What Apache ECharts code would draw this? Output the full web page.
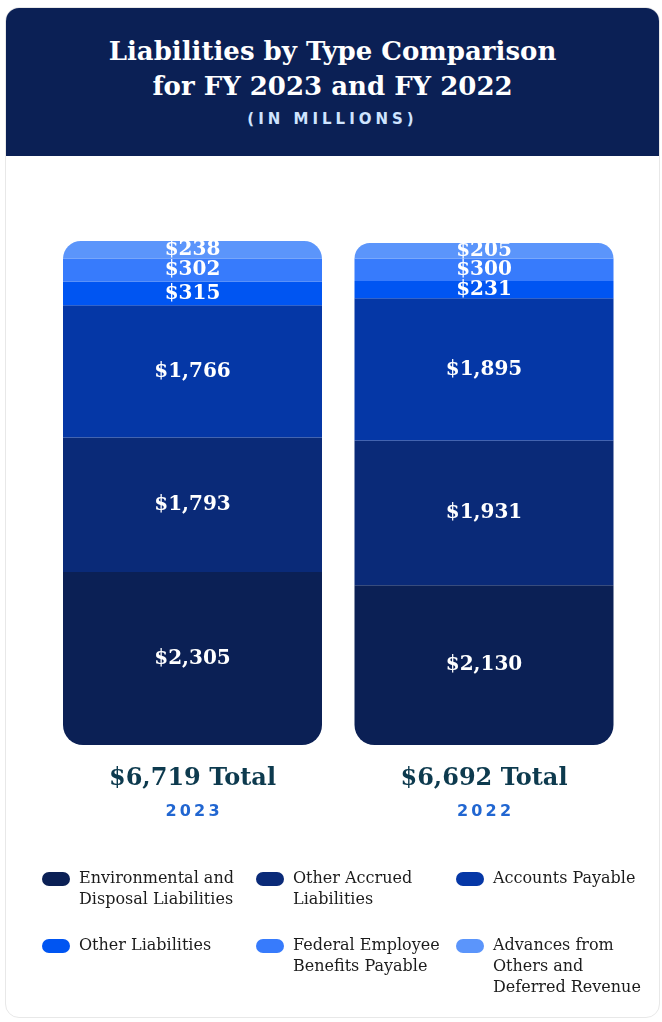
<!DOCTYPE html>
<html>
<head>
<meta charset="utf-8">
<script src="https://cdn.jsdelivr.net/npm/echarts@6/dist/echarts.min.js"></script>
<style>
  html, body { margin: 0; padding: 0; width: 662px; height: 1022px; overflow: hidden; background: #fff; }
  #card {
    position: absolute; left: 5px; top: 7px; width: 655px; height: 1011px;
    border: 1.5px solid #e8e8e8; border-radius: 14px; box-sizing: border-box;
    overflow: hidden; background: #fff;
  }
  #head {
    position: absolute; left: 0; top: 0; right: 0; height: 148px;
    background: #0b2055; text-align: center; color: #fff;
  }
  #head h1 {
    margin: 0; padding-top: 26px;
    font-family: "DejaVu Serif", serif; font-weight: bold; font-size: 26px; line-height: 35px;
  }
  #head .sub {
    margin-top: 6px; color: #cfe4ff;
    font-family: "DejaVu Sans", sans-serif; font-weight: bold; font-size: 15px; letter-spacing: 4px;
  }
  #chart { position: absolute; left: 0; top: 0; width: 662px; height: 1022px; }
</style>
</head>
<body>
<div id="card">
  <div id="head">
    <h1>Liabilities by Type Comparison<br>for FY 2023 and FY 2022</h1>
    <div class="sub">(IN MILLIONS)</div>
  </div>
</div>
<div id="chart"></div>

<script>
// fiscal years shown, left to right
var years = ['2023', '2022'];

// liabilities by type, $ millions (bottom of the stack first)
var environmental = [2305, 2130];
var otherAccrued = [1793, 1931];
var accountsPayable = [1766, 1895];
var otherLiabilities = [315, 231];
var federalEmployee = [302, 300];
var advances = [238, 205];

var seriesNames = [
  'Environmental and Disposal Liabilities',
  'Other Accrued Liabilities',
  'Accounts Payable',
  'Other Liabilities',
  'Federal Employee Benefits Payable',
  'Advances from Others and Deferred Revenue'
];
var seriesData = [environmental, otherAccrued, accountsPayable, otherLiabilities, federalEmployee, advances];
var colors = ['#0b2055', '#0a2a78', '#0537a6', '#0055f2', '#377bfc', '#5b95fb'];

// legend text broken the way the reference wraps it
var legendLines = {
  'Environmental and Disposal Liabilities': ['Environmental and', 'Disposal Liabilities'],
  'Other Accrued Liabilities': ['Other Accrued', 'Liabilities'],
  'Accounts Payable': ['Accounts Payable'],
  'Other Liabilities': ['Other Liabilities'],
  'Federal Employee Benefits Payable': ['Federal Employee', 'Benefits Payable'],
  'Advances from Others and Deferred Revenue': ['Advances from', 'Others and', 'Deferred Revenue']
};
var legendSpots = [[42, 879], [256, 879], [456, 879], [42, 946], [256, 946], [456, 946]];

var totals = years.map(function (y, i) {
  var s = 0;
  seriesData.forEach(function (d) { s += d[i]; });
  return s;
});

function money(v) { return '$' + v.toLocaleString('en-US'); }

var lineH = 21;
var legends = seriesNames.map(function (name, k) {
  var lines = legendLines[name];
  var pad = [];
  for (var j = 1; j < lines.length; j++) pad.push('');
  var blockH = (lines.length * 2 - 1) * lineH;
  return {
    data: [name],
    left: legendSpots[k][0],
    top: legendSpots[k][1] - blockH / 2,
    padding: 0,
    selectedMode: false,
    itemWidth: 28,
    itemHeight: 14,
    icon: 'path://M7,0 L21,0 A7,7 0 0 1 21,14 L7,14 A7,7 0 0 1 7,0 Z',
    formatter: function () { return pad.concat(lines).join('\n'); },
    textStyle: {
      fontFamily: 'DejaVu Serif', fontSize: 16, color: '#1c1c1c',
      lineHeight: lineH, padding: [0, 0, 0, 4]
    }
  };
});

var series = seriesNames.map(function (name, k) {
  var radius = [0, 0, 0, 0];
  if (k === 0) radius = [0, 0, 20, 20];
  if (k === seriesNames.length - 1) radius = [20, 20, 0, 0];
  return {
    name: name,
    type: 'bar',
    stack: 'total',
    barWidth: 259,
    data: seriesData[k],
    itemStyle: { color: colors[k], borderRadius: radius, borderWidth: 0 },
    label: {
      show: true,
      position: 'inside',
      color: '#fff',
      fontFamily: 'DejaVu Serif',
      fontWeight: 'bold',
      fontSize: 20,
      formatter: function (p) { return money(p.value); }
    },
    emphasis: { disabled: true }
  };
});

var chart = echarts.init(document.getElementById('chart'), null, { renderer: 'canvas' });
chart.setOption({
  animation: false,
  color: colors,
  legend: legends,
  grid: { left: 46.75, width: 583, top: 241, bottom: 277 },
  xAxis: {
    type: 'category',
    data: years,
    axisLine: { show: false },
    axisTick: { show: false },
    axisLabel: {
      margin: 17,
      formatter: function (v, i) {
        return '{t|' + money(totals[i]) + ' Total}\n{y|' + v.split('').join('\u2009') + '}';
      },
      rich: {
        t: { fontFamily: 'DejaVu Serif', fontWeight: 'bold', fontSize: 24, color: '#0d3a4e', lineHeight: 34 },
        y: { fontFamily: 'DejaVu Sans', fontWeight: 'bold', fontSize: 16, color: '#2166d1', lineHeight: 32 }
      }
    }
  },
  yAxis: {
    type: 'value',
    min: 0,
    max: Math.max.apply(null, totals),
    show: false
  },
  series: series
});
window.onresize = chart.resize;
</script>
</body>
</html>
